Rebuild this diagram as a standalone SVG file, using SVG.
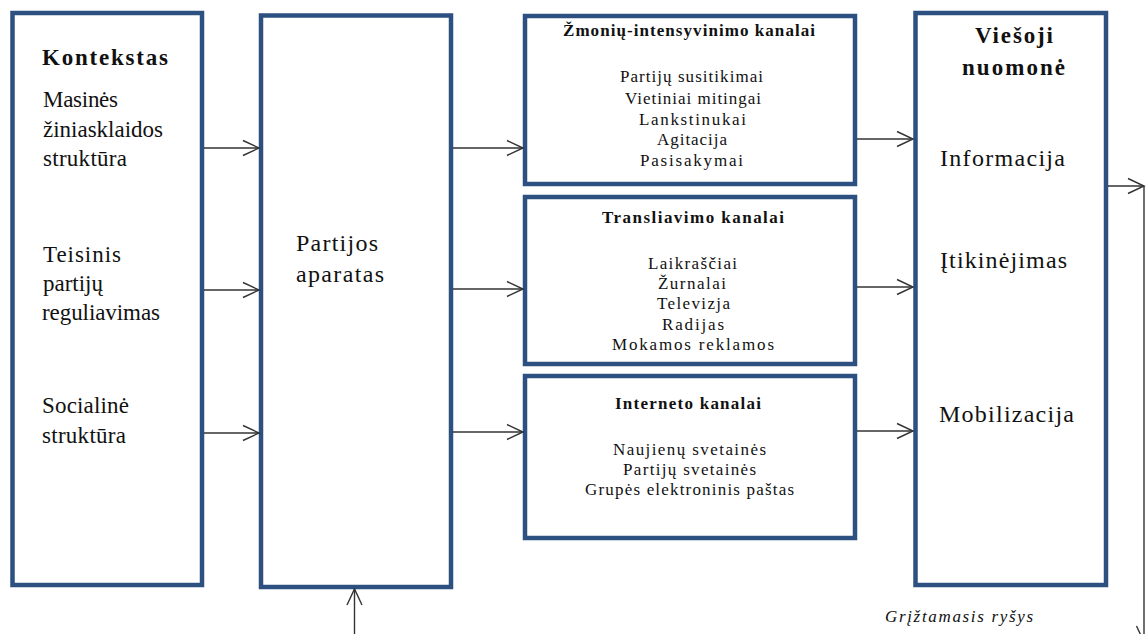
<svg xmlns="http://www.w3.org/2000/svg" width="1146" height="634" viewBox="0 0 1146 634">
<defs>
<marker id="arr" markerUnits="userSpaceOnUse" markerWidth="20" markerHeight="18" viewBox="0 0 20 18" refX="17" refY="9" orient="auto">
<path d="M1,1.5 L17,9 L1,16.5" fill="none" stroke="#333" stroke-width="1.4"/>
</marker>
<style>
.box{fill:#fff;stroke:#2C5080;stroke-width:4.5}
.t{fill:#111}
.l{font-size:23px}
.b{font-weight:bold}
.s{font-size:17px}
.c{stroke:#333;stroke-width:1.4;fill:none}
</style>
</defs>
<rect width="1146" height="634" fill="#fff"/>
<g id="kontekstas" font-family="'Liberation Serif', 'DejaVu Serif', serif">
<rect class="box" x="12.5" y="13" width="189.5" height="572"/>
<text class="t l b" x="42" y="65" textLength="126" lengthAdjust="spacing">Kontekstas</text>
<text class="t l" x="43" y="107" textLength="75" lengthAdjust="spacing">Masinės</text>
<text class="t l" x="43" y="137" textLength="120" lengthAdjust="spacing">žiniasklaidos</text>
<text class="t l" x="43" y="166" textLength="84" lengthAdjust="spacing">struktūra</text>
<text class="t l" x="43" y="262" textLength="78" lengthAdjust="spacing">Teisinis</text>
<text class="t l" x="43" y="291" textLength="60" lengthAdjust="spacing">partijų</text>
<text class="t l" x="42" y="320" textLength="118" lengthAdjust="spacing">reguliavimas</text>
<text class="t l" x="42" y="413" textLength="87" lengthAdjust="spacing">Socialinė</text>
<text class="t l" x="42" y="443" textLength="84" lengthAdjust="spacing">struktūra</text>
</g>
<g id="aparatas" font-family="'Liberation Serif', 'DejaVu Serif', serif">
<rect class="box" x="261" y="15.5" width="190" height="571.5"/>
<text class="t" font-size="24" x="296" y="251" textLength="82" lengthAdjust="spacing">Partijos</text>
<text class="t" font-size="24" x="296" y="282" textLength="88" lengthAdjust="spacing">aparatas</text>
</g>
<g id="zmoniu" font-family="'Liberation Serif', 'DejaVu Serif', serif">
<rect class="box" x="525" y="16" width="330" height="168"/>
<text class="t s b" x="563" y="36" textLength="252" lengthAdjust="spacing">Žmonių-intensyvinimo kanalai</text>
<text class="t s" x="620" y="82" textLength="143" lengthAdjust="spacing">Partijų susitikimai</text>
<text class="t s" x="625" y="104" textLength="136" lengthAdjust="spacing">Vietiniai mitingai</text>
<text class="t s" x="639" y="125" textLength="107" lengthAdjust="spacing">Lankstinukai</text>
<text class="t s" x="657" y="145" textLength="70" lengthAdjust="spacing">Agitacija</text>
<text class="t s" x="640" y="166" textLength="103" lengthAdjust="spacing">Pasisakymai</text>
</g>
<g id="transliavimo" font-family="'Liberation Serif', 'DejaVu Serif', serif">
<rect class="box" x="525" y="197" width="330" height="167"/>
<text class="t s b" x="602" y="223" textLength="182" lengthAdjust="spacing">Transliavimo kanalai</text>
<text class="t s" x="648" y="269" textLength="89" lengthAdjust="spacing">Laikraščiai</text>
<text class="t s" x="658" y="289" textLength="68" lengthAdjust="spacing">Žurnalai</text>
<text class="t s" x="657" y="309" textLength="73" lengthAdjust="spacing">Televizja</text>
<text class="t s" x="662" y="330" textLength="62" lengthAdjust="spacing">Radijas</text>
<text class="t s" x="612" y="350" textLength="162" lengthAdjust="spacing">Mokamos reklamos</text>
</g>
<g id="interneto" font-family="'Liberation Serif', 'DejaVu Serif', serif">
<rect class="box" x="525" y="376" width="330" height="162"/>
<text class="t s b" x="615" y="409" textLength="146" lengthAdjust="spacing">Interneto kanalai</text>
<text class="t s" x="613" y="455" textLength="153" lengthAdjust="spacing">Naujienų svetainės</text>
<text class="t s" x="623" y="475" textLength="133" lengthAdjust="spacing">Partijų svetainės</text>
<text class="t s" x="585" y="495" textLength="209" lengthAdjust="spacing">Grupės elektroninis paštas</text>
</g>
<g id="viesoji" font-family="'Liberation Serif', 'DejaVu Serif', serif">
<rect class="box" x="915.5" y="13" width="190.5" height="572"/>
<text class="t l b" x="975" y="43" textLength="78" lengthAdjust="spacing">Viešoji</text>
<text class="t l b" x="962" y="75" textLength="103" lengthAdjust="spacing">nuomonė</text>
<text class="t" font-size="24" x="940" y="166" textLength="125" lengthAdjust="spacing">Informacija</text>
<text class="t" font-size="24" x="940" y="268" textLength="127" lengthAdjust="spacing">Įtikinėjimas</text>
<text class="t" font-size="24" x="939" y="422" textLength="135" lengthAdjust="spacing">Mobilizacija</text>
</g>
<g id="feedback-label" font-family="'Liberation Serif', 'DejaVu Serif', serif">
<text class="t" font-size="17" font-style="italic" x="885" y="622" textLength="148" lengthAdjust="spacing" fill="#222">Grįžtamasis ryšys</text>
</g>
<g id="connectors">
<line class="c" x1="204" y1="148" x2="259" y2="148" marker-end="url(#arr)"/>
<line class="c" x1="204" y1="290" x2="259" y2="290" marker-end="url(#arr)"/>
<line class="c" x1="204" y1="433" x2="259" y2="433" marker-end="url(#arr)"/>
<line class="c" x1="453" y1="148" x2="523" y2="148" marker-end="url(#arr)"/>
<line class="c" x1="453" y1="289" x2="523" y2="289" marker-end="url(#arr)"/>
<line class="c" x1="453" y1="432" x2="523" y2="432" marker-end="url(#arr)"/>
<line class="c" x1="857" y1="139" x2="913" y2="139" marker-end="url(#arr)"/>
<line class="c" x1="857" y1="287" x2="913" y2="287" marker-end="url(#arr)"/>
<line class="c" x1="857" y1="431" x2="913" y2="431" marker-end="url(#arr)"/>
<line class="c" x1="1108" y1="186" x2="1144" y2="186" marker-end="url(#arr)"/>
<line class="c" x1="1144" y1="186" x2="1144" y2="642" marker-end="url(#arr)"/>
<line class="c" x1="354.5" y1="640" x2="354.5" y2="589" marker-end="url(#arr)"/>
</g>
</svg>
